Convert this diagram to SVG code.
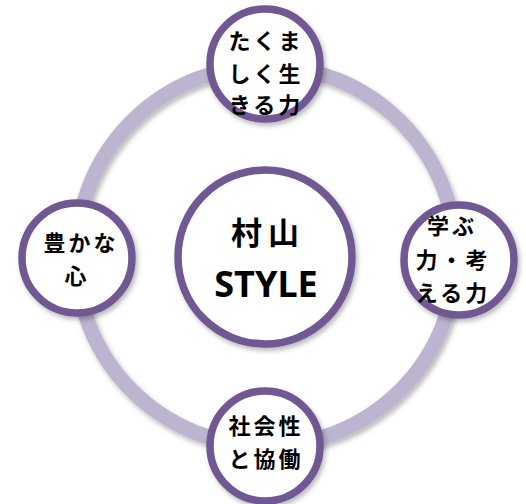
<svg xmlns="http://www.w3.org/2000/svg" width="526" height="504" viewBox="0 0 526 504">
  <defs>
    <filter id="sh" x="-20%" y="-20%" width="140%" height="140%">
      <feDropShadow dx="2" dy="3" stdDeviation="2.5" flood-color="#000" flood-opacity="0.28"/>
    </filter>
    <style>
      .ring { fill: none; stroke: #bdb4cf; stroke-width: 15; }
      .node { fill: #ffffff; stroke: #705892; stroke-width: 7.5; }
      .lbl { font-family: "Noto Sans CJK JP", "Noto Sans", sans-serif; font-weight: bold; fill: #000; text-anchor: middle; font-size: 22px; letter-spacing: 3px; }
      .big { font-size: 31px; letter-spacing: 6px; }
      .style { font-size: 36px; letter-spacing: 0px; font-family: "Noto Sans", "DejaVu Sans", sans-serif; }
    </style>
  </defs>
  <g id="connectors">
    <circle class="ring" cx="266" cy="256" r="190" filter="url(#sh)"/>
  </g>
  <g id="center">
    <circle class="node" cx="265" cy="257" r="87" stroke-width="8" filter="url(#sh)"/>
    <text class="lbl big" x="268" y="244">村山</text>
    <text class="lbl style" x="266" y="297">STYLE</text>
  </g>
  <g id="top">
    <circle class="node" cx="265" cy="64" r="55" filter="url(#sh)"/>
    <text class="lbl" x="266" y="49">たくま</text>
    <text class="lbl" x="266" y="82">しく生</text>
    <text class="lbl" x="266" y="113">きる力</text>
  </g>
  <g id="right">
    <circle class="node" cx="459" cy="260" r="55" filter="url(#sh)"/>
    <text class="lbl" x="452" y="234">学ぶ</text>
    <text class="lbl" x="453" y="268">力・考</text>
    <text class="lbl" x="453" y="301">える力</text>
  </g>
  <g id="left">
    <circle class="node" cx="77" cy="258" r="55" filter="url(#sh)"/>
    <text class="lbl" x="81" y="251">豊かな</text>
    <text class="lbl" x="77" y="284">心</text>
  </g>
  <g id="bottom">
    <circle class="node" cx="265" cy="446" r="55" filter="url(#sh)"/>
    <text class="lbl" x="266" y="434">社会性</text>
    <text class="lbl" x="266" y="467">と協働</text>
  </g>
</svg>
